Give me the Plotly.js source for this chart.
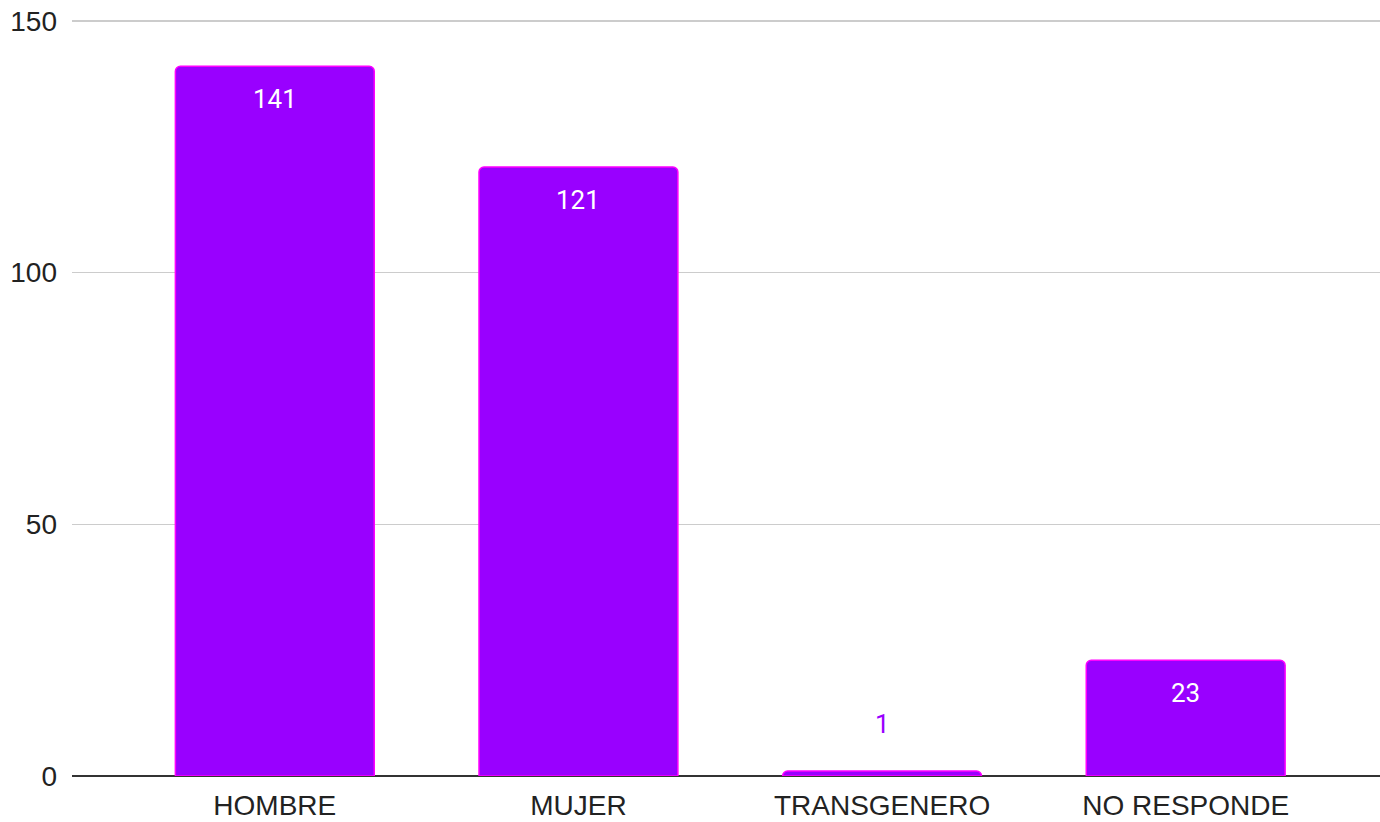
<!DOCTYPE html>
<html><head><meta charset="utf-8">
<script src="https://cdn.plot.ly/plotly-3.0.1.min.js"></script>
<style>html,body{margin:0;padding:0;background:#fff}#chart{width:1380px;height:822px}</style>
</head><body><div id="chart"></div>
<script>
var categories = ["HOMBRE", "MUJER", "TRANSGENERO", "NO RESPONDE"];
var values = [141, 121, 1, 23];
var yTicks = [0, 50, 100, 150];

var annotations = categories.map(function(c, i){
  var small = values[i] < 10;
  return {x: c, y: values[i], xref: 'x', yref: 'y', text: String(values[i]), showarrow: false,
    yshift: small ? 47 : -33,
    font: {family: 'Roboto, sans-serif', size: 26, color: small ? '#9900ff' : '#ffffff'}};
});

Plotly.newPlot('chart', [{
  type: 'bar', x: categories, y: values,
  marker: {color: '#9900ff', line: {color: '#ff00ff', width: 1.5}, cornerradius: 5},
  width: 0.655, hoverinfo: 'none'
}], {
  width: 1380, height: 822,
  margin: {l: 72, r: 0, t: 19, b: 46},
  paper_bgcolor: '#fff', plot_bgcolor: '#fff',
  showlegend: false,
  xaxis: {range: [-0.668, 3.64], showgrid: false, showline: false, ticks: '', zeroline: false,
    ticklabelstandoff: 10,
    tickfont: {family: 'Liberation Sans, Arial, sans-serif', size: 28, color: '#222'}},
  yaxis: {range: [0, 150.4], tickvals: yTicks, ticktext: yTicks.map(String), showgrid: true, gridcolor: '#cccccc', gridwidth: 1.5,
    zeroline: true, zerolinecolor: '#333333', zerolinewidth: 2, showline: false, ticks: '', ticklen: 0,
    ticklabelstandoff: 14,
    tickfont: {family: 'Liberation Sans, Arial, sans-serif', size: 28, color: '#222'}, automargin: false},
  annotations: annotations
}, {displayModeBar: false, staticPlot: true});
</script></body></html>
